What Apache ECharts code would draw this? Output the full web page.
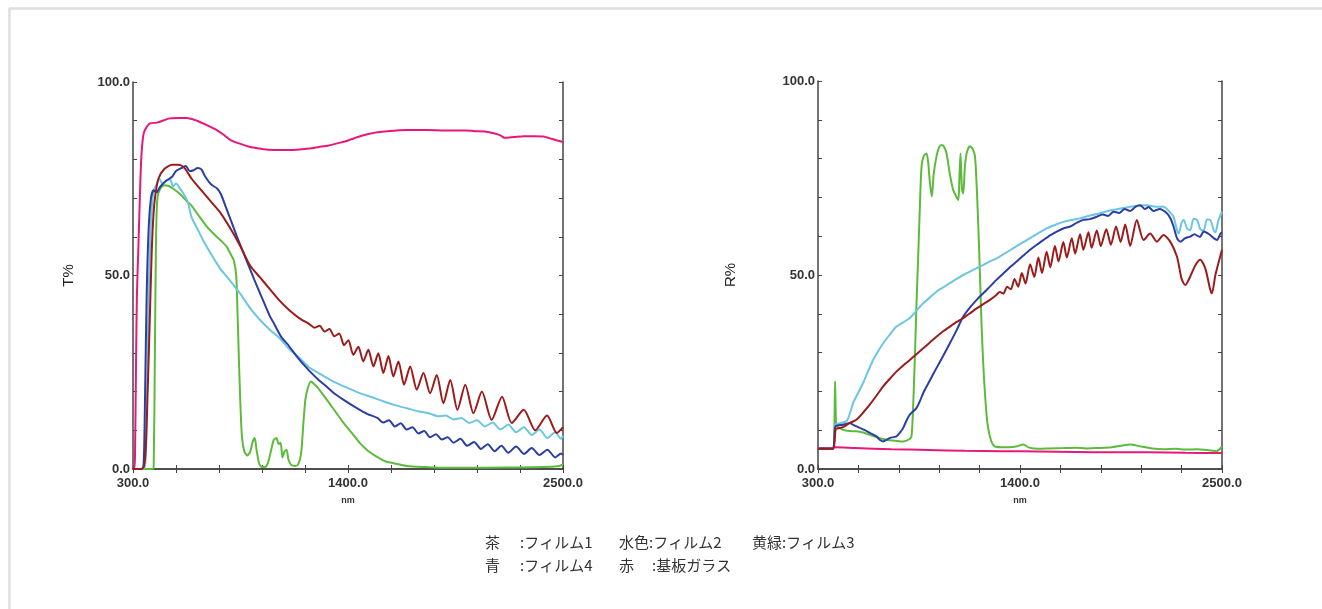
<!DOCTYPE html>
<html>
<head>
<meta charset="utf-8">
<script src="https://cdn.jsdelivr.net/npm/echarts@6/dist/echarts.min.js"></script>
<style>
  html, body { margin: 0; padding: 0; background: #fff; }
  #main { width: 1322px; height: 609px; }
</style>
</head>
<body>
<div id="main"></div>
<script type="text/javascript">
// 波長 (nm) と透過率 / 反射率 (%)
var xTicks = [300, 520, 740, 960, 1180, 1400, 1620, 1840, 2060, 2280, 2500];
var xLabels = [300, 1400, 2500];
var yTicks = [0, 10, 20, 30, 40, 50, 60, 70, 80, 90, 100];
var yLabels = [0, 50, 100];

// T% 茶:フィルム1
var tFilm1 = [[300,0],[340,0],[355,0.5],[365,5],[375,20],[385,37],[395,55],[405,66],[415,71],[430,75],[460,77.5],[500,78.6],[530,78.6],[560,78],[600,75],[650,72],[700,69],[750,66],[800,62],[850,57.5],[900,52.5],[950,49.5],[1000,46.5],[1050,43.5],[1100,41],[1150,39],[1200,37.5],[1230,36.5],[1255,37],[1280,35.5],[1305,36.2],[1330,34.3],[1355,35],[1380,32],[1402,33.3],[1427,29.5],[1453,31.6],[1478,27.8],[1504,30.8],[1530,26.5],[1555,29.9],[1581,24.8],[1607,29.2],[1632,23.9],[1658,27.8],[1687,21.8],[1718,26.5],[1752,20.5],[1786,24.8],[1820,19.6],[1854,24.3],[1888,17],[1923,23],[1960,15.3],[2000,21.8],[2042,14.4],[2085,20],[2135,12.7],[2188,18.7],[2238,11.9],[2299,15.3],[2358,10],[2418,13.8],[2469,9.3],[2500,10.8]];
// T% 水色:フィルム2
var tFilm2 = [[300,0],[355,0],[365,3],[372,20],[380,45],[390,62],[400,70],[410,72.5],[420,73.5],[435,75],[450,73.8],[470,74.5],[490,74.8],[505,73],[520,73.8],[540,72.5],[560,71],[580,69],[600,65],[630,62],[660,59],[700,55.5],[750,51.5],[780,49.7],[850,45.2],[900,41.5],[950,38.5],[1000,36],[1050,33.8],[1100,31],[1150,28.8],[1200,26.3],[1250,24.8],[1300,23.3],[1350,22],[1400,20.9],[1460,19.6],[1520,18.6],[1580,17.5],[1640,16.5],[1700,15.7],[1760,14.9],[1820,14.3],[1860,13.6],[1900,13.8],[1940,12.8],[1980,13.2],[2020,11.9],[2060,12.6],[2100,11],[2140,12],[2180,10.2],[2220,11.5],[2260,9.5],[2300,10.8],[2340,8.8],[2380,10.2],[2420,8],[2460,9.5],[2490,7.8],[2500,8.6]];
// T% 黄緑:フィルム3
var tFilm3 = [[300,0],[400,0],[406,1],[412,30],[418,60],[425,70],[440,72.5],[460,73.3],[480,73.2],[500,72.6],[530,71.5],[570,69.5],[600,68],[640,65.2],[680,62.5],[710,60.9],[750,59],[780,57.4],[800,55.5],[815,54],[828,50],[835,40],[842,28],[850,16],[858,8],[870,4.5],[885,3.5],[900,4.5],[912,7],[923,8],[932,5],[945,1.5],[960,0.5],[975,0.5],[990,1.5],[1005,4.5],[1020,7.5],[1034,8],[1045,6.5],[1055,6.8],[1065,3],[1075,4.5],[1086,5],[1095,2.5],[1110,1],[1130,0.8],[1145,1.2],[1160,4],[1172,12],[1182,18],[1195,21],[1210,22.6],[1225,22],[1245,21],[1290,18],[1340,14.5],[1376,12],[1420,9.3],[1461,6.7],[1500,4.8],[1547,3.2],[1590,2],[1632,1.5],[1700,0.8],[1800,0.5],[1900,0.3],[2000,0.3],[2200,0.4],[2400,0.5],[2480,0.8],[2500,1.2]];
// T% 青:フィルム4
var tFilm4 = [[300,0],[345,0],[355,2],[362,20],[370,45],[380,62],[392,70],[405,72],[420,71.5],[440,73],[470,74.5],[500,75.5],[520,77],[550,77.8],[570,78.3],[590,77],[610,77.2],[630,77.8],[650,77.4],[670,75.5],[700,73.5],[730,72.5],[750,71],[780,67],[810,63],[840,59],[880,54],[920,49],[950,45.4],[1000,39.5],[1020,37.7],[1060,34],[1090,32.3],[1150,28.3],[1200,25.5],[1250,23],[1290,21.3],[1330,19.5],[1380,17.8],[1420,16.5],[1460,15.3],[1500,14.2],[1550,13.2],[1580,12],[1610,12.6],[1640,11],[1670,11.8],[1700,10.2],[1730,10.8],[1760,9.2],[1790,9.8],[1820,8.2],[1850,9],[1880,7.6],[1910,8.2],[1940,6.8],[1975,7.8],[2010,6],[2045,7],[2080,5.2],[2115,6.4],[2150,4.6],[2185,6],[2220,4.2],[2260,5.8],[2300,3.9],[2340,5.4],[2380,3.6],[2420,5],[2460,3],[2490,4],[2500,3.6]];
// T% 赤:基板ガラス
var tGlass = [[300,0],[305,0],[310,3],[315,25],[320,45],[328,58],[335,70],[342,80],[352,86],[361,87.6],[387,89.3],[423,89.5],[489,90.6],[540,90.7],[576,90.7],[627,90],[680,88.8],[720,87.8],[760,86.5],[800,85],[850,84],[900,83.2],[950,82.8],[1000,82.5],[1100,82.4],[1200,82.8],[1250,83.2],[1300,83.6],[1350,84.2],[1400,84.9],[1450,85.8],[1500,86.5],[1550,87],[1600,87.3],[1700,87.6],[1800,87.6],[1900,87.5],[2000,87.5],[2050,87.3],[2100,87.2],[2150,86.7],[2180,86.2],[2200,85.6],[2250,85.8],[2300,86],[2350,86],[2400,85.9],[2430,85.5],[2470,84.9],[2500,84.5]];

// R% 茶:フィルム1
var rFilm1 = [[300,5.2],[380,5.2],[388,6],[395,10],[400,10.4],[436,10.8],[470,11.8],[509,12.7],[545,14.5],[582,16.6],[620,19],[655,21.3],[690,23.2],[727,25.1],[764,26.7],[800,28.1],[836,29.6],[873,31.1],[909,32.6],[945,34.1],[982,35.5],[1018,36.7],[1055,37.9],[1091,38.9],[1127,40.1],[1164,41.4],[1200,42.5],[1236,43.6],[1270,44.8],[1290,45.6],[1309,45.2],[1330,47],[1350,46.3],[1370,49],[1390,47],[1410,50.5],[1430,47.8],[1455,52.8],[1478,49.5],[1500,54.5],[1520,50.5],[1545,56],[1565,52],[1590,57.5],[1610,53.5],[1636,58.5],[1655,54.5],[1682,59.5],[1700,55.5],[1727,60.5],[1745,56.5],[1773,61],[1790,57],[1818,61.5],[1840,57.5],[1870,61.8],[1895,57.8],[1923,62.5],[1948,58.5],[1973,63],[2000,57.5],[2036,64.2],[2073,59],[2109,60.7],[2145,58.6],[2182,60.3],[2218,58.6],[2255,54.7],[2280,49],[2300,47.4],[2327,49.6],[2355,52.5],[2382,53.9],[2409,51.7],[2436,46.2],[2445,45.3],[2464,50],[2500,56.5]];
// R% 水色:フィルム2
var rFilm2 = [[300,5.2],[380,5.2],[388,8],[395,11.5],[420,11.8],[455,12.3],[475,14.5],[491,17],[518,19.6],[545,22.1],[573,25.2],[600,28.1],[627,30.3],[655,32.4],[690,34.6],[727,36.7],[764,37.8],[800,38.9],[836,40.8],[873,42.7],[909,44.2],[945,45.7],[982,46.8],[1018,47.9],[1055,49],[1091,50],[1145,51.3],[1200,52.6],[1236,53.5],[1273,54.3],[1318,55.6],[1364,56.9],[1409,58.2],[1455,59.5],[1500,60.8],[1545,62],[1590,62.9],[1636,63.7],[1680,64.2],[1727,64.6],[1773,65.2],[1818,65.7],[1864,66.3],[1909,66.8],[1955,67.2],[2000,67.6],[2045,67.9],[2091,68],[2140,67.6],[2182,67.6],[2210,66.5],[2236,65],[2255,61.5],[2264,60.7],[2280,63.5],[2291,64.2],[2310,62],[2327,61.5],[2345,64.5],[2364,64.2],[2382,61.8],[2400,61.5],[2418,64.3],[2436,64.2],[2455,61.5],[2464,61],[2480,64],[2500,66.3]];
// R% 黄緑:フィルム3
var rFilm3 = [[300,5.2],[380,5.2],[388,8],[393,22.6],[398,12],[404,11],[420,10.5],[436,10.1],[470,9.8],[509,9.7],[545,9.4],[582,8.8],[620,8.2],[673,7.5],[720,7.3],[764,7.1],[795,7.6],[809,8.4],[818,16],[827,28],[836,42],[845,54],[855,68],[864,78],[877,80.8],[891,81.3],[900,79],[909,74],[920,70.2],[930,76],[945,80.5],[960,83],[973,83.5],[987,83],[1000,81.3],[1018,76],[1036,71.9],[1050,70.5],[1064,69.3],[1070,75],[1076,81.3],[1084,72],[1091,71],[1100,78],[1110,81.5],[1127,83.2],[1142,82.5],[1155,80.5],[1165,72],[1173,62.5],[1182,50],[1191,36.7],[1200,27],[1209,19.6],[1222,12],[1236,8.4],[1250,6.5],[1264,5.8],[1300,5.6],[1340,5.6],[1380,5.8],[1418,6.3],[1450,5.5],[1500,5.2],[1560,5.3],[1636,5.4],[1700,5.5],[1760,5.3],[1818,5.4],[1900,5.6],[1950,6],[2000,6.3],[2060,5.8],[2120,5.3],[2182,5.1],[2250,5.2],[2300,5],[2364,5.1],[2420,4.9],[2470,4.6],[2500,5.8]];
// R% 青:フィルム4
var rFilm4 = [[300,5.2],[380,5.2],[388,7],[395,11],[436,11.4],[473,11.8],[500,11.2],[527,10.6],[555,10],[582,9.3],[618,8.4],[640,7.4],[655,7.1],[675,7.6],[691,8],[727,8.4],[745,9.3],[764,10.6],[782,12.5],[800,14],[836,15.7],[855,17.5],[873,19.6],[909,22.8],[945,26],[982,29.2],[1018,32.4],[1055,35.8],[1091,39.3],[1127,41.6],[1164,43.6],[1200,45.3],[1236,47],[1273,48.8],[1309,50.4],[1345,52],[1382,53.5],[1418,55],[1455,56.5],[1491,57.8],[1527,59],[1564,60.2],[1600,61.2],[1636,62],[1673,62.5],[1710,63.5],[1745,64.2],[1780,64.4],[1818,65],[1850,65.6],[1880,65.2],[1909,66.3],[1940,66],[1970,67],[2000,66.5],[2030,67.6],[2055,68],[2080,67],[2100,67.5],[2127,66.5],[2160,67],[2200,65.9],[2220,64.5],[2236,62.5],[2255,59.5],[2273,58.6],[2300,59.5],[2327,59.9],[2350,60.5],[2380,59.8],[2400,61.2],[2430,60.5],[2455,59.5],[2473,59],[2490,60.5],[2500,61]];
// R% 赤:基板ガラス
var rGlass = [[300,5.4],[380,5.4],[390,5.6],[500,5.4],[700,5.1],[900,4.9],[1100,4.7],[1300,4.6],[1500,4.5],[1700,4.4],[1900,4.3],[2100,4.3],[2300,4.2],[2500,4.1]];

var colors = {
    film1: '#9c1c1c',
    film2: '#6cc6e2',
    film3: '#5dbb3c',
    film4: '#2b3fa3',
    glass: '#e8177a'
};

var axisColor = '#444';
var labelStyle = {
    color: '#333',
    fontSize: 13,
    fontWeight: 'bold',
    fontFamily: 'Liberation Sans, Arial, sans-serif'
};
var legendFont = '15px "Noto Sans CJK JP"';

function bottomAxis(gridIndex) {
    return {
        type: 'value', gridIndex: gridIndex, position: 'bottom',
        min: 300, max: 2500,
        name: 'nm', nameLocation: 'middle', nameGap: 27,
        nameTextStyle: { color: '#333', fontSize: 9, fontWeight: 'bold', fontFamily: 'Liberation Sans, Arial, sans-serif' },
        axisLine: { lineStyle: { color: axisColor, width: 1.5 } },
        axisTick: { inside: true, length: 4, customValues: xTicks, lineStyle: { color: axisColor } },
        axisLabel: Object.assign({ customValues: xLabels, margin: 8, formatter: function (v) { return v.toFixed(1); } }, labelStyle),
        splitLine: { show: false }
    };
}
function topAxis(gridIndex) {
    return {
        type: 'value', gridIndex: gridIndex, position: 'top',
        min: 300, max: 2500,
        axisLine: { lineStyle: { color: axisColor, width: 1.5 } },
        axisTick: { inside: true, length: 4, customValues: xTicks, lineStyle: { color: axisColor } },
        axisLabel: { show: false },
        splitLine: { show: false }
    };
}
function leftAxis(gridIndex, name, gap) {
    return {
        type: 'value', gridIndex: gridIndex, position: 'left',
        min: 0, max: 100,
        name: name, nameLocation: 'middle', nameGap: gap, nameRotate: 90,
        nameTextStyle: { color: '#222', fontSize: 15, fontFamily: 'Liberation Sans, Arial, sans-serif' },
        axisLine: { lineStyle: { color: axisColor, width: 1.5 } },
        axisTick: { inside: true, length: 4, customValues: yTicks, lineStyle: { color: axisColor } },
        axisLabel: Object.assign({ customValues: yLabels, margin: 3, formatter: function (v) { return v.toFixed(1); } }, labelStyle),
        splitLine: { show: false }
    };
}
function rightAxis(gridIndex) {
    return {
        type: 'value', gridIndex: gridIndex, position: 'right',
        min: 0, max: 100,
        axisLine: { lineStyle: { color: axisColor, width: 1.5 } },
        axisTick: { inside: true, length: 4, customValues: yTicks, lineStyle: { color: axisColor } },
        axisLabel: { show: false },
        splitLine: { show: false }
    };
}

function curve(name, data, color, xIdx, yIdx) {
    return {
        name: name, type: 'line', data: data,
        xAxisIndex: xIdx, yAxisIndex: yIdx,
        showSymbol: false, smooth: 0.25, animation: false,
        lineStyle: { color: color, width: 2 }
    };
}

function legendText(x, y, text) {
    return { type: 'text', left: x, top: y, style: { text: text, fill: '#333', font: legendFont } };
}

var myChart = echarts.init(document.getElementById('main'));
myChart.setOption({
    backgroundColor: '#fff',
    animation: false,
    grid: [
        { left: 133, top: 82, width: 430, height: 387 },
        { left: 818, top: 81, width: 404, height: 388 }
    ],
    xAxis: [bottomAxis(0), topAxis(0), bottomAxis(1), topAxis(1)],
    yAxis: [leftAxis(0, 'T%', 57), rightAxis(0), leftAxis(1, 'R%', 80), rightAxis(1)],
    series: [
        curve('基板ガラス', tGlass, colors.glass, 0, 0),
        curve('フィルム3', tFilm3, colors.film3, 0, 0),
        curve('フィルム2', tFilm2, colors.film2, 0, 0),
        curve('フィルム4', tFilm4, colors.film4, 0, 0),
        curve('フィルム1', tFilm1, colors.film1, 0, 0),
        curve('基板ガラス', rGlass, colors.glass, 2, 2),
        curve('フィルム3', rFilm3, colors.film3, 2, 2),
        curve('フィルム2', rFilm2, colors.film2, 2, 2),
        curve('フィルム4', rFilm4, colors.film4, 2, 2),
        curve('フィルム1', rFilm1, colors.film1, 2, 2)
    ],
    graphic: [
        // 外枠
        { type: 'line', shape: { x1: 9, y1: 8.5, x2: 1322, y2: 8.5 }, style: { stroke: '#dedede', lineWidth: 2.5 } },
        { type: 'line', shape: { x1: 9.5, y1: 8, x2: 9.5, y2: 609 }, style: { stroke: '#dedede', lineWidth: 2.5 } },
        // 凡例
        legendText(485, 535, '茶'),
        legendText(520, 535, ':フィルム1'),
        legendText(619, 535, '水色:フィルム2'),
        legendText(752, 535, '黄緑:フィルム3'),
        legendText(485, 558, '青'),
        legendText(520, 558, ':フィルム4'),
        legendText(619, 558, '赤'),
        legendText(652, 558, ':基板ガラス')
    ]
});
</script>
</body>
</html>
